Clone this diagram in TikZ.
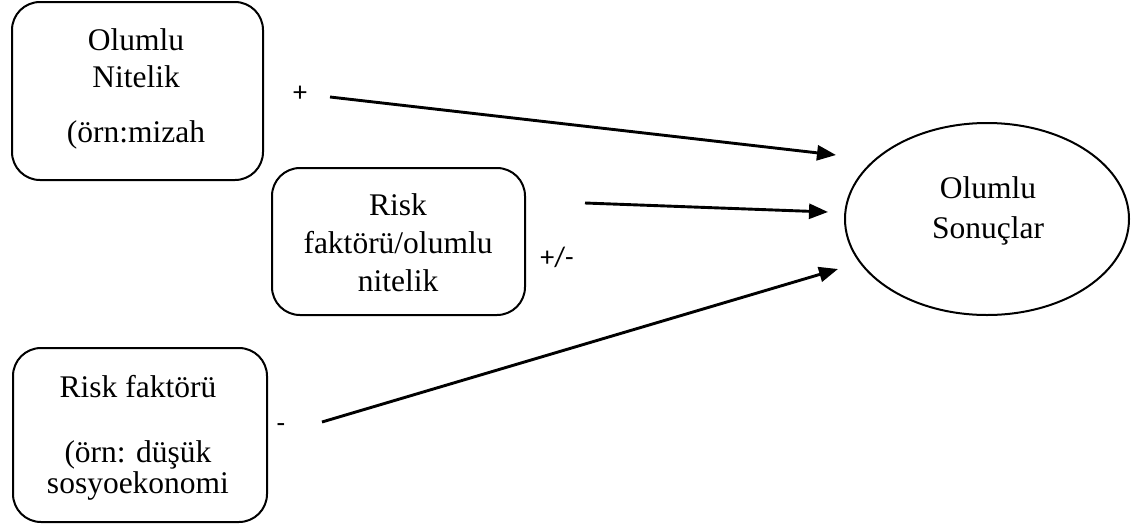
\documentclass[tikz,border=0pt]{standalone}
\usepackage{fontspec}
\setmainfont{Liberation Serif}
\newfontfamily\labelfont{Carlito}
\usetikzlibrary{arrows.meta,shapes.geometric}
\begin{document}
\begin{tikzpicture}[x=1pt,y=-1pt,
  box/.style={draw,line width=2pt,rounded corners=28pt,inner sep=0pt},
  oval/.style={draw,ellipse,line width=2pt,inner sep=0pt},
  txt/.style={font=\fontsize{31.5}{36}\selectfont,anchor=base,inner sep=0pt},
  lbl/.style={font=\labelfont\fontsize{28}{32}\selectfont,anchor=base,inner sep=0pt},
  conn/.style={line width=2.9pt,-{Triangle[length=19pt,width=15pt]}}]
\useasboundingbox (0,0) rectangle (1136,528);
% boxes
\node[box,minimum width=251pt,minimum height=178pt] (b1) at (137.5,91) {};
\node[box,minimum width=253pt,minimum height=147pt] (b2) at (398.5,241.5) {};
\node[box,minimum width=254pt,minimum height=174pt] (b3) at (140,435) {};
\node[oval,minimum width=284pt,minimum height=192pt] (res) at (987,219) {};
% texts
\node[txt] (t11) at (136,50) {Olumlu};
\node[txt] (t12) at (136,87) {Nitelik};
\node[txt] (t13) at (136,142) {(örn:mizah};
\node[txt] (t21) at (398,215) {Risk};
\node[txt] (t22) at (398,253) {faktörü/olumlu};
\node[txt] (t23) at (398,291) {nitelik};
\node[txt] (t31) at (138,397) {Risk faktörü};
\node[txt] (t32) at (138,462) {(örn: düşük};
\node[txt] (t33) at (138,493) {sosyoekonomi};
\node[txt] (r1) at (988,198) {Olumlu};
\node[txt] (r2) at (988,238) {Sonuçlar};
% labels
\node[lbl] (l1) at (300,101) {+};
\node[lbl] (l2) at (557,266) {+/-};
\node[lbl] (l3) at (281,432) {-};
% connectors
\coordinate (s1) at (330,97);
\coordinate (e1) at (836,155);
\coordinate (s2) at (585,203);
\coordinate (e2) at (828,212);
\coordinate (s3) at (322,422);
\coordinate (e3) at (838,269);
\draw[conn] (s1) -- (e1);
\draw[conn] (s2) -- (e2);
\draw[conn] (s3) -- (e3);
\end{tikzpicture}
\end{document}
